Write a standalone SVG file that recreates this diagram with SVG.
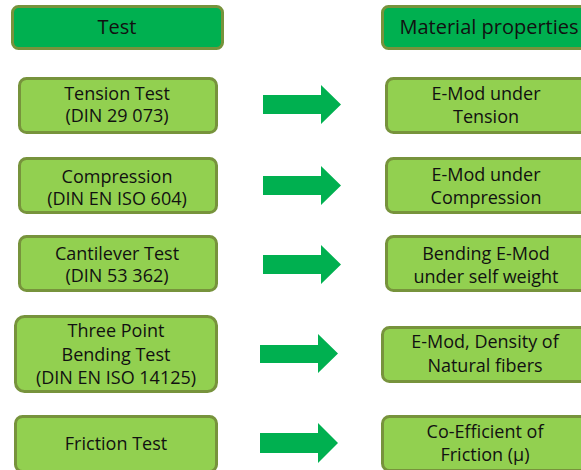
<svg xmlns="http://www.w3.org/2000/svg" width="581" height="470" viewBox="0 0 581 470">
<style>
.hdr{fill:#00B050;stroke:#77933C;stroke-width:3}
.box{fill:#92D050;stroke:#77933C;stroke-width:3}
.arr{fill:#00B050}
text{font-family:"Open Sans","Noto Sans",sans-serif;font-size:18px;fill:#111;text-anchor:middle}
.h{font-size:20px}
</style>
<rect width="581" height="470" fill="#fff"/>
<g id="hdr-test"><rect class="hdr" x="12.5" y="6.5" width="210" height="42" rx="6"/><text class="h" x="117" y="34">Test</text></g>
<g id="hdr-mat"><rect class="hdr" x="382.5" y="6.5" width="210" height="42" rx="6"/><text class="h" x="489" y="34">Material properties</text></g>
<g id="t1"><rect class="box" x="19.5" y="78.5" width="197" height="54" rx="7"/><text x="117" y="100">Tension Test</text><text x="117" y="122">(DIN 29 073)</text></g>
<g id="t2"><rect class="box" x="19.5" y="158.5" width="197" height="54" rx="7"/><text x="117" y="183">Compression</text><text x="117" y="205">(DIN EN ISO 604)</text></g>
<g id="t3"><rect class="box" x="19.5" y="236.5" width="197" height="54" rx="7"/><text x="117" y="260">Cantilever Test</text><text x="117" y="282">(DIN 53 362)</text></g>
<g id="t4"><rect class="box" x="15.5" y="316.5" width="201" height="75" rx="9"/><text x="116" y="337">Three Point</text><text x="116" y="361">Bending Test</text><text x="116" y="384">(DIN EN ISO 14125)</text></g>
<g id="t5"><rect class="box" x="15.5" y="416.5" width="201" height="55" rx="7"/><text x="116" y="450">Friction Test</text></g>
<g id="m1"><rect class="box" x="386.5" y="78.5" width="210" height="54" rx="7"/><text x="486" y="100">E-Mod under</text><text x="486" y="123">Tension</text></g>
<g id="m2"><rect class="box" x="386.5" y="158.5" width="210" height="54" rx="7"/><text x="486" y="181">E-Mod under</text><text x="486" y="204">Compression</text></g>
<g id="m3"><rect class="box" x="386.5" y="236.5" width="210" height="54" rx="7"/><text x="486" y="260">Bending E-Mod</text><text x="486" y="283">under self weight</text></g>
<g id="m4"><rect class="box" x="382.5" y="327.5" width="210" height="54" rx="7"/><text x="485" y="348">E-Mod, Density of</text><text x="485" y="372">Natural fibers</text></g>
<g id="m5"><rect class="box" x="382.5" y="416.5" width="210" height="54" rx="7"/><text x="485" y="438">Co-Efficient of</text><text x="485" y="461">Friction (μ)</text></g>
<g id="connectors">
<polygon class="arr" points="263,95 321,95 321,85 341,104.5 321,124 321,114 263,114"/>
<polygon class="arr" points="263,176 321,176 321,166 341,185.5 321,205 321,195 263,195"/>
<polygon class="arr" points="263,255 321,255 321,245 341,264.5 321,284 321,274 263,274"/>
<polygon class="arr" points="260,345 318,345 318,334 338,353.5 318,373 318,363 260,363"/>
<polygon class="arr" points="260,433 318,433 318,423 338,443 318,463 318,453 260,453"/>
</g>
</svg>
